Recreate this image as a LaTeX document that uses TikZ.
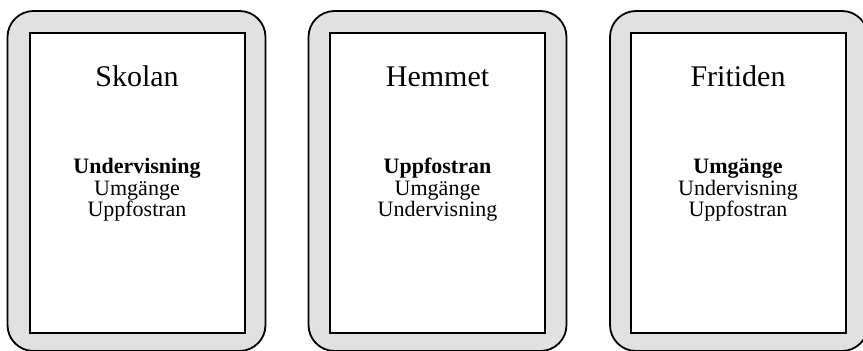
\documentclass[tikz,border=0pt]{standalone}
\usepackage{fontspec}
\setmainfont{Liberation Serif}
\definecolor{panelgray}{RGB}{225,225,225}
\begin{document}
\begin{tikzpicture}[x=1pt,y=-1pt,
  outerbox/.style={draw=black,line width=1.8pt,fill=panelgray,rounded corners=26pt,
    minimum width=258pt,minimum height=340pt,inner sep=0pt},
  innerbox/.style={draw=black,line width=2pt,fill=white,
    minimum width=215pt,minimum height=300pt,inner sep=0pt},
  titletext/.style={anchor=base,font=\fontsize{30}{34}\selectfont,inner sep=0pt},
  itemtext/.style={anchor=base,font=\fontsize{22}{24}\selectfont,inner sep=0pt},
  itembold/.style={itemtext,font=\fontsize{22}{24}\selectfont\bfseries}]
\useasboundingbox (0,0) rectangle (863,351);
% panel 1
\node[outerbox] (o1) at (136.5,181) {};
\node[innerbox] (i1) at (137,183) {};
\node[titletext] (t1) at (137,86.7) {Skolan};
\node[itembold] (a1) at (137,173.3) {Undervisning};
\node[itemtext] (b1) at (137,195) {Umgänge};
\node[itemtext] (c1) at (137,216.7) {Uppfostran};
% panel 2
\node[outerbox] (o2) at (437.5,181) {};
\node[innerbox] (i2) at (437.5,183) {};
\node[titletext] (t2) at (437.5,86.7) {Hemmet};
\node[itembold] (a2) at (437.5,173.3) {Uppfostran};
\node[itemtext] (b2) at (437.5,195) {Umgänge};
\node[itemtext] (c2) at (437.5,216.7) {Undervisning};
% panel 3
\node[outerbox] (o3) at (739,181) {};
\node[innerbox] (i3) at (738,183) {};
\node[titletext] (t3) at (738,86.7) {Fritiden};
\node[itembold] (a3) at (738,173.3) {Umgänge};
\node[itemtext] (b3) at (738,195) {Undervisning};
\node[itemtext] (c3) at (738,216.7) {Uppfostran};
\end{tikzpicture}
\end{document}
